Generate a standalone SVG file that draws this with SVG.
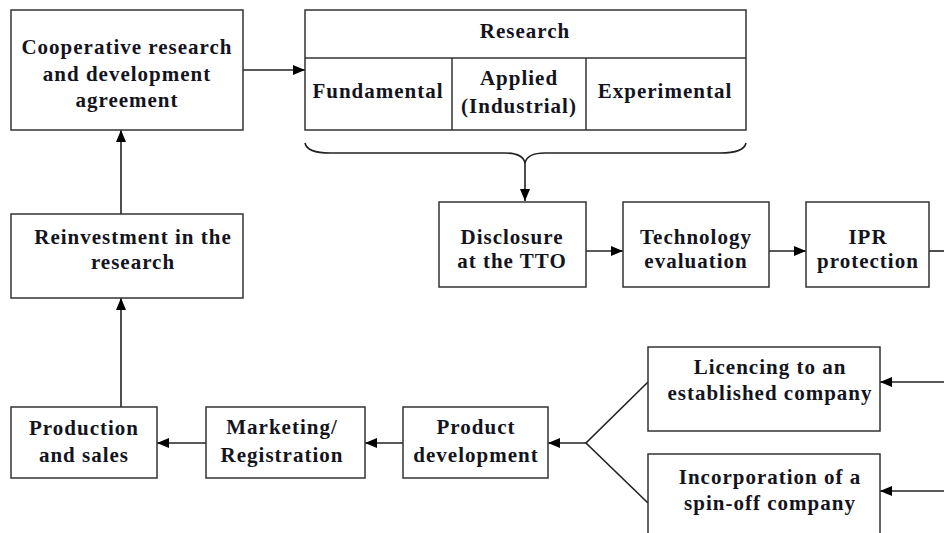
<svg xmlns="http://www.w3.org/2000/svg" width="944" height="533" viewBox="0 0 944 533">
<defs>
<marker id="ah" viewBox="0 0 12 10" refX="12" refY="5" markerWidth="12" markerHeight="10" markerUnits="userSpaceOnUse" orient="auto">
<path d="M0,0 L12,5 L0,10 Z" fill="#000"/>
</marker>
</defs>
<style>
rect.n{fill:#fff;stroke:#333;stroke-width:1.5}
text{font-family:"Liberation Serif","DejaVu Serif",serif;font-weight:bold;font-size:21px;letter-spacing:1px;fill:#14141e;text-anchor:middle}
.c{fill:none;stroke:#222;stroke-width:1.6}
</style>
<rect width="944" height="533" fill="#fff"/>
<g id="connectors">
<line class="c" x1="243" y1="70" x2="305" y2="70" marker-end="url(#ah)"/>
<path class="c" d="M305,143 Q307,153 330,153 L505,153 Q523,153 525,163 Q527,153 545,153 L720,153 Q744,153 746,143"/>
<line class="c" x1="525" y1="163" x2="525" y2="201" marker-end="url(#ah)"/>
<line class="c" x1="586" y1="251" x2="623" y2="251" marker-end="url(#ah)"/>
<line class="c" x1="769" y1="251" x2="806" y2="251" marker-end="url(#ah)"/>
<line class="c" x1="929" y1="251" x2="944" y2="251"/>
<line class="c" x1="944" y1="382" x2="880" y2="382" marker-end="url(#ah)"/>
<line class="c" x1="944" y1="491" x2="880" y2="491" marker-end="url(#ah)"/>
<polyline class="c" points="648,382 586,443 648,503"/>
<line class="c" x1="586" y1="443" x2="548" y2="443" marker-end="url(#ah)"/>
<line class="c" x1="403" y1="443" x2="365" y2="443" marker-end="url(#ah)"/>
<line class="c" x1="206" y1="443" x2="157" y2="443" marker-end="url(#ah)"/>
<line class="c" x1="121" y1="407" x2="121" y2="298" marker-end="url(#ah)"/>
<line class="c" x1="121" y1="214" x2="121" y2="130" marker-end="url(#ah)"/>
</g>
<g id="coop">
<rect class="n" x="11" y="10" width="232" height="120"/>
<text x="127" y="54">Cooperative research</text>
<text x="127" y="81">and development</text>
<text x="127" y="107">agreement</text>
</g>
<g id="research">
<rect class="n" x="305" y="10" width="441" height="120"/>
<line x1="305" y1="58" x2="746" y2="58" stroke="#333" stroke-width="1.5"/>
<line x1="452" y1="58" x2="452" y2="130" stroke="#333" stroke-width="1.5"/>
<line x1="586" y1="58" x2="586" y2="130" stroke="#333" stroke-width="1.5"/>
<text x="525" y="38">Research</text>
<text x="378" y="98">Fundamental</text>
<text x="519" y="85">Applied</text>
<text x="519" y="113">(Industrial)</text>
<text x="665" y="98">Experimental</text>
</g>
<g id="disclosure">
<rect class="n" x="439" y="202" width="147" height="85"/>
<text x="512" y="244">Disclosure</text>
<text x="512" y="268">at the TTO</text>
</g>
<g id="technology">
<rect class="n" x="623" y="202" width="146" height="85"/>
<text x="696" y="244">Technology</text>
<text x="696" y="268">evaluation</text>
</g>
<g id="ipr">
<rect class="n" x="806" y="202" width="123" height="85"/>
<text x="868" y="244">IPR</text>
<text x="868" y="268">protection</text>
</g>
<g id="reinvestment">
<rect class="n" x="11" y="214" width="232" height="84"/>
<text x="133" y="244">Reinvestment in the</text>
<text x="133" y="269">research</text>
</g>
<g id="production">
<rect class="n" x="11" y="407" width="146" height="71"/>
<text x="84" y="435">Production</text>
<text x="84" y="462">and sales</text>
</g>
<g id="marketing">
<rect class="n" x="206" y="407" width="159" height="71"/>
<text x="282" y="434">Marketing/</text>
<text x="282" y="462">Registration</text>
</g>
<g id="product">
<rect class="n" x="403" y="407" width="145" height="71"/>
<text x="476" y="434">Product</text>
<text x="476" y="462">development</text>
</g>
<g id="licencing">
<rect class="n" x="648" y="347" width="232" height="84"/>
<text x="770" y="374">Licencing to an</text>
<text x="770" y="400">established company</text>
</g>
<g id="incorporation">
<rect class="n" x="648" y="454" width="232" height="90"/>
<text x="770" y="484">Incorporation of a</text>
<text x="770" y="510">spin-off company</text>
</g>
</svg>
